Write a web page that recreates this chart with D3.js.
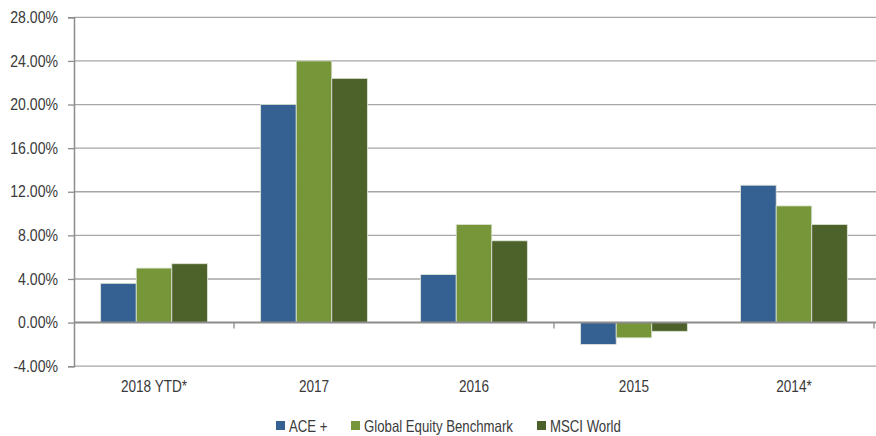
<!DOCTYPE html>
<html>
<head>
<meta charset="utf-8">
<script src="https://cdn.jsdelivr.net/npm/d3@7"></script>
<style>
  html, body { margin: 0; padding: 0; background: #fff; }
  svg text { font-family: "Liberation Sans", Arial, sans-serif; fill: #3a3a3a; }
</style>
</head>
<body>
<svg id="chart" width="876" height="436"></svg>
<script>
// Annual returns (%) by period
const categories = ["2018 YTD*", "2017", "2016", "2015", "2014*"];
const seriesNames = ["ACE +", "Global Equity Benchmark", "MSCI World"];
const aceValues = [3.6, 20.0, 4.4, -2.0, 12.6];
const benchmarkValues = [5.0, 24.0, 9.0, -1.4, 10.7];
const msciValues = [5.4, 22.4, 7.5, -0.8, 9.0];
const yTicks = [-4, 0, 4, 8, 12, 16, 20, 24, 28];
const colors = ["#356092", "#77963a", "#4d622a"];

// narrow lettering: horizontal compression of the text glyphs
const squeeze = 0.8;

const seriesValues = [aceValues, benchmarkValues, msciValues];
const rows = categories.map((c, i) => ({
  category: c,
  values: seriesNames.map((s, j) => ({ series: s, idx: j, value: seriesValues[j][i] }))
}));

const svg = d3.select("#chart");
const margin = { left: 74 };

const x = d3.scaleBand()
  .domain(categories)
  .range([margin.left, 874])
  .paddingInner(0.333)
  .paddingOuter(0.1667);

const xInner = d3.scaleBand()
  .domain(seriesNames)
  .range([0, x.bandwidth()]);

const y = d3.scaleLinear()
  .domain([-4, 28])
  .range([366.2, 17.3]);

// horizontal gridlines
svg.append("g")
  .selectAll("line")
  .data(yTicks.filter(t => t !== 0))
  .join("line")
  .attr("x1", margin.left)
  .attr("x2", 876)
  .attr("y1", d => y(d))
  .attr("y2", d => y(d))
  .attr("stroke", "#a6a6a6")
  .attr("stroke-width", 1.3);

// y axis
const yAxis = d3.axisLeft(y)
  .tickValues(yTicks)
  .tickSize(6)
  .tickPadding(10)
  .tickFormat(d => d.toFixed(2) + "%");

const yG = svg.append("g")
  .attr("transform", `translate(${margin.left},0)`)
  .call(yAxis);
yG.select(".domain").attr("stroke", "#8c8c8c").attr("stroke-width", 1.5);
yG.selectAll(".tick line").attr("stroke", "#8c8c8c").attr("stroke-width", 1.3);
yG.selectAll(".tick text")
  .style("font-size", "16px")
  .attr("fill", "#3a3a3a")
  .attr("x", -16 / 0.88)
  .attr("transform", "scale(0.88,1)");

// bars
const groups = svg.append("g")
  .selectAll("g")
  .data(rows)
  .join("g")
  .attr("transform", d => `translate(${x(d.category)},0)`);

groups.selectAll("rect")
  .data(d => d.values)
  .join("rect")
  .attr("x", d => xInner(d.series))
  .attr("width", xInner.bandwidth())
  .attr("y", d => y(Math.max(0, d.value)))
  .attr("height", d => Math.abs(y(d.value) - y(0)))
  .attr("fill", d => colors[d.idx])
  .attr("stroke", "#dfe5d6")
  .attr("stroke-width", 0.8);

// zero baseline with category separators
const step = x.step();
const bounds = categories.map((c, i) => x(c) - x.paddingOuter() * step + (i + 1) * step);
svg.append("line")
  .attr("x1", margin.left)
  .attr("x2", 876)
  .attr("y1", y(0))
  .attr("y2", y(0))
  .attr("stroke", "#8c8c8c")
  .attr("stroke-width", 2);
svg.append("g")
  .selectAll("line")
  .data(bounds)
  .join("line")
  .attr("x1", d => d)
  .attr("x2", d => d)
  .attr("y1", y(0))
  .attr("y2", y(0) + 6)
  .attr("stroke", "#8c8c8c")
  .attr("stroke-width", 1.3);

// category labels
svg.append("g")
  .selectAll("text")
  .data(categories)
  .join("text")
  .attr("transform", d => `translate(${x(d) + x.bandwidth() / 2},392) scale(${squeeze},1)`)
  .attr("text-anchor", "middle")
  .style("font-size", "17px")
  .text(d => d);

// legend
const legendX = [276, 351, 537];
const legend = svg.append("g")
  .selectAll("g")
  .data(seriesNames)
  .join("g")
  .attr("transform", (d, i) => `translate(${legendX[i]},421)`);
legend.append("rect")
  .attr("width", 9)
  .attr("height", 9)
  .attr("fill", (d, i) => colors[i]);
legend.append("text")
  .attr("transform", `translate(13,11) scale(${squeeze},1)`)
  .style("font-size", "16.5px")
  .text(d => d);
</script>
</body>
</html>
